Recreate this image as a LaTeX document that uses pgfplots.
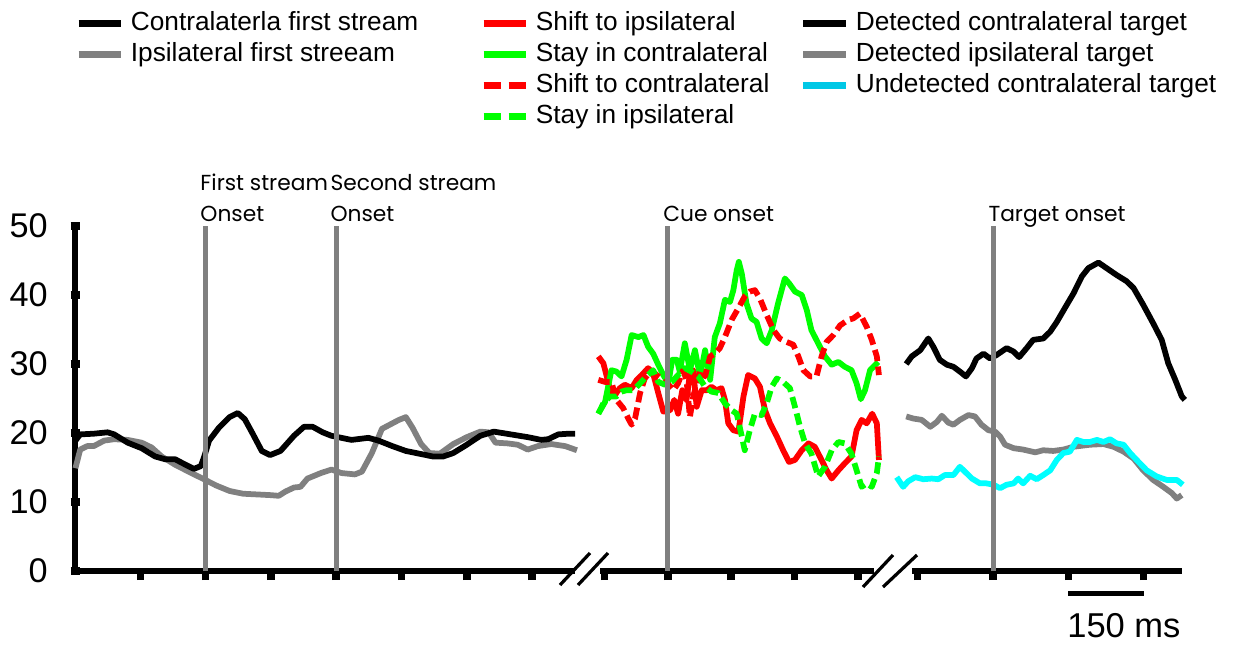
\documentclass[border=0pt]{standalone}
\usepackage{fontspec}
\setmainfont{Liberation Sans}
\newfontfamily\geofont{Poppins}
\usepackage{pgfplots}
\pgfplotsset{compat=1.18}
\definecolor{lgray}{RGB}{128,128,128}
\definecolor{pred}{RGB}{255,0,0}
\definecolor{pgreen}{RGB}{0,255,0}
\definecolor{pcyan}{RGB}{0,255,255}
\definecolor{lcyan}{RGB}{0,200,230}
\newcommand\PX[2]{({(#1)*0.4pt},{(644-(#2))*0.4pt})}
\tikzset{lab/.style={anchor=base west, inner sep=0pt, font=\geofont\fontsize{8.7}{10}\selectfont}}
\pgfplotsset{
  panel/.style={
    y=2.76pt, ymin=0, ymax=50, enlargelimits=false,
    axis x line=bottom,
    tick align=outside,
    major tick length=3.6pt,
    tick style={black, line width=3pt},
    xticklabels={},
    clip=false,
    no markers,
    /pgf/number format/assume math mode=true,
    legend cell align=left,
    legend style={draw=none, fill=none, anchor=north west,
      font=\fontsize{10.5}{12}\selectfont, inner sep=0pt, outer sep=0pt,
      row sep=2pt, nodes={inner sep=0pt, text height=8pt, text depth=2.5pt}},
    legend image code/.code={\draw[#1, line width=2.8pt] (0pt,0pt) -- (17pt,0pt); \path (19.8pt,0pt);},
  },
  lines/.style={axis line style={-, line width=2.6pt, black}},
  curve/.style={line width=2.3pt, line join=round},
  dcurve/.style={line width=2.3pt, line join=round, dash pattern=on 4.6pt off 2.2pt},
  vline/.style={lgray, line width=2pt, forget plot},
}
\begin{document}
\begin{tikzpicture}
\useasboundingbox (0,0) rectangle (494.4pt,257.6pt);

% ---------------- Panel 1 ----------------
\begin{axis}[panel,
  at={(30pt,29.2pt)}, anchor=south west,
  x=0.17413pt, xmin=-300, xmax=849,
  axis y line=left, lines,
  xtick={-150,0,150,300,450,600,750},
  ytick={0,10,20,30,40,50},
  yticklabel style={font=\fontsize{13.7}{15}\selectfont, xshift=-5.6pt},
  legend style={at={(0,1.626)}},
]
\addlegendimage{black, curve}\addlegendentry{Contralaterla first stream}
\addlegendimage{lgray, curve}\addlegendentry{Ipsilateral first streeam}
\addplot[lgray, curve, forget plot] coordinates {
(-299,14.9) (-288,17.6) (-272,18.1) (-257,18.1) (-233,18.9) (-210,19.1) (-179,19.0) (-147,18.6) (-124,17.9) (-101,16.6) (-70,15.4) (-39,14.4) (-7,13.4) (24,12.4) (55,11.6) (86,11.2) (117,11.1) (148,11.0) (168,10.9) (183,11.5) (203,12.1) (218,12.2) (234,13.4) (265,14.2) (289,14.7) (312,14.2) (343,14.0) (359,14.4) (382,17.1) (405,20.6) (429,21.4) (444,21.9) (460,22.3) (475,20.8) (495,18.4) (514,17.1) (538,17.0) (569,18.4) (600,19.4) (631,20.2) (650,20.1) (666,18.6) (693,18.5) (717,18.3) (740,17.6) (763,18.1) (794,18.4) (826,18.1) (853,17.5)};
\addplot[black, curve, forget plot] coordinates {
(-299,18.9) (-288,19.8) (-257,19.9) (-225,20.1) (-210,19.8) (-179,18.6) (-147,17.8) (-116,16.6) (-93,16.2) (-70,16.2) (-46,15.4) (-27,14.8) (-11,15.2) (-3,16.6) (8,18.9) (31,20.8) (55,22.3) (74,22.9) (90,22.0) (109,19.8) (129,17.4) (148,16.8) (172,17.4) (203,19.6) (226,20.9) (246,20.9) (269,20.1) (289,19.6) (312,19.3) (335,19.0) (374,19.3) (397,18.9) (429,18.1) (460,17.4) (491,17.0) (522,16.6) (546,16.6) (569,17.1) (600,18.3) (631,19.6) (662,20.2) (701,19.8) (740,19.4) (771,19.0) (787,19.1) (810,19.8) (834,19.9) (849,19.9)};
\addplot[vline] coordinates {(0,0) (0,50)};
\addplot[vline] coordinates {(300,0) (300,50)};
\node[lab] at (axis cs:-13,55.1) {First stream};
\node[lab] at (axis cs:-13,50.7) {Onset};
\node[lab] at (axis cs:286,55.1) {Second stream};
\node[lab] at (axis cs:286,50.7) {Onset};
\end{axis}

% ---------------- Panel 2 ----------------
\begin{axis}[panel,
  at={(240pt,29.2pt)}, anchor=south west,
  x=0.1688pt, xmin=-161, xmax=488,
  axis y line=none, lines, ytick=\empty,
  xtick={-150,0,150,300,450},
  legend style={at={(-0.438,1.626)}},
]
\addplot[pred, curve] coordinates {
(-165,31.1) (-153,30.1) (-145,28.2) (-137,26.2) (-126,25.5) (-114,26.5) (-102,27.0) (-86,26.5) (-74,27.7) (-62,28.4) (-47,29.4) (-35,28.6) (-23,25.8) (-11,23.1) (5,23.3) (15,24.8) (24,22.8) (34,26.2) (44,24.8) (52,28.6) (60,29.1) (68,23.8) (80,26.2) (92,26.2) (103,26.7) (115,26.2) (127,26.5) (135,24.8) (143,21.4) (155,20.4) (167,20.2) (179,25.3) (190,28.4) (206,27.9) (218,26.7) (230,23.3) (242,21.4) (258,19.5) (273,17.5) (287,15.8) (301,16.1) (317,17.5) (333,18.5) (348,18.0) (364,16.1) (376,14.6) (388,13.4) (404,14.6) (419,15.6) (435,16.6) (447,20.4) (459,21.9) (471,21.4) (484,22.8) (495,21.4) (500,16.1)};
\addlegendentry{Shift to ipsilateral}
\addplot[pgreen, curve] coordinates {
(-165,22.8) (-149,24.5) (-134,29.1) (-122,28.9) (-110,28.2) (-98,30.6) (-86,34.2) (-70,33.9) (-58,34.2) (-47,32.5) (-35,31.5) (-23,29.9) (-11,28.4) (1,27.2) (10,30.6) (21,30.6) (28,28.9) (40,33.0) (52,29.1) (64,32.0) (76,28.2) (88,32.0) (100,27.7) (111,33.9) (123,35.9) (135,39.3) (147,39.0) (155,40.7) (163,43.6) (168,44.8) (175,43.1) (186,38.8) (198,36.6) (210,36.1) (222,33.7) (234,33.0) (246,34.9) (261,38.8) (277,42.4) (287,41.7) (301,40.5) (317,40.0) (329,37.8) (340,34.9) (356,33.0) (372,31.1) (388,29.9) (404,30.3) (419,29.6) (435,29.1) (447,27.2) (457,24.9) (467,26.2) (479,29.1) (498,30.3)};
\addlegendentry{Stay in contralateral}
\addplot[pred, dcurve, legend image post style={dash pattern=on 6.8pt off 3.2pt}] coordinates {
(-165,27.7) (-149,27.4) (-134,27.4) (-122,24.8) (-106,23.6) (-94,22.1) (-86,21.2) (-78,22.1) (-66,25.8) (-55,27.9) (-39,29.1) (-27,28.4) (-11,27.7) (1,27.0) (13,26.2) (24,27.2) (36,29.1) (44,27.7) (52,22.3) (60,25.3) (68,27.2) (76,29.1) (88,28.2) (100,31.1) (111,31.5) (123,32.3) (135,33.9) (151,36.4) (167,38.1) (182,39.8) (194,40.5) (206,40.7) (218,39.5) (234,37.1) (250,34.9) (265,33.7) (281,33.2) (297,32.8) (309,31.1) (321,29.1) (337,28.2) (352,28.2) (364,31.1) (376,33.2) (392,34.2) (408,35.6) (427,36.4) (439,36.6) (455,37.3) (471,35.4) (483,33.5) (495,31.1) (500,28.4)};
\addlegendentry{Shift to contralateral}
\addplot[pgreen, dcurve, legend image post style={dash pattern=on 6.8pt off 3.2pt}] coordinates {
(-165,22.8) (-153,24.3) (-137,25.3) (-122,25.3) (-110,26.0) (-98,26.2) (-82,26.2) (-66,27.2) (-51,28.2) (-35,29.1) (-23,27.4) (-7,27.0) (9,27.4) (24,28.4) (40,29.4) (56,28.9) (72,28.2) (88,26.7) (103,26.0) (119,25.8) (135,24.3) (151,23.3) (163,22.8) (175,19.5) (182,17.5) (194,20.4) (206,22.8) (222,22.6) (234,24.3) (246,26.7) (258,27.9) (273,27.4) (289,26.5) (301,23.8) (313,20.9) (325,18.5) (340,17.0) (356,13.7) (372,15.1) (388,17.5) (404,18.7) (419,18.5) (435,17.0) (447,14.6) (459,12.2) (471,12.7) (483,12.2) (495,14.2) (500,16.6)};
\addlegendentry{Stay in ipsilateral}
\addplot[vline] coordinates {(0,0) (0,50)};
\node[lab] at (axis cs:-12,50.7) {Cue onset};
\end{axis}

% ---------------- Panel 3 ----------------
\begin{axis}[panel,
  at={(364.8pt,29.2pt)}, anchor=south west,
  x=0.2008pt, xmin=-161.4, xmax=376.5,
  axis y line=none, lines, ytick=\empty,
  xtick={-150,0,150,300},
  legend style={at={(-0.415,1.626)}},
]
\addplot[black, curve] coordinates {
(-173,30.0) (-162,31.1) (-145,32.0) (-129,33.7) (-119,32.5) (-106,30.6) (-92,29.9) (-79,29.6) (-66,28.9) (-54,28.2) (-42,29.4) (-33,30.8) (-19,31.5) (-6,30.8) (7,31.3) (27,32.3) (41,31.8) (52,31.0) (67,32.3) (80,33.5) (100,33.7) (114,34.7) (127,36.1) (143,38.1) (160,40.2) (177,42.7) (190,43.9) (210,44.7) (226,43.9) (246,42.9) (266,42.0) (280,41.0) (299,38.6) (319,35.9) (336,33.5) (349,30.1) (363,27.7) (376,25.3) (382,24.8)};
\addlegendentry{Detected contralateral target}
\addplot[lgray, curve] coordinates {
(-173,22.4) (-159,22.1) (-142,21.9) (-125,20.9) (-112,21.6) (-102,22.5) (-89,21.5) (-79,21.2) (-66,21.9) (-49,22.6) (-36,22.4) (-23,21.2) (-9,20.4) (4,20.2) (14,19.5) (24,18.3) (41,17.8) (60,17.6) (84,17.2) (100,17.5) (120,17.4) (140,17.6) (160,18.0) (193,18.3) (220,18.4) (240,18.0) (260,17.3) (280,16.3) (299,14.6) (319,13.2) (339,12.2) (356,11.3) (366,10.5) (376,11.0)};
\addlegendentry{Detected ipsilateral target}
\addplot[pcyan, curve, legend image post style={lcyan}] coordinates {
(-192,13.6) (-179,12.2) (-169,13.0) (-155,13.6) (-139,13.3) (-122,13.4) (-109,13.3) (-96,13.9) (-79,13.9) (-66,15.1) (-56,14.4) (-42,13.4) (-26,12.7) (-13,12.7) (1,12.5) (14,12.0) (27,12.5) (41,12.7) (50,13.4) (60,12.7) (74,13.8) (87,13.3) (100,13.9) (114,14.6) (127,16.1) (140,17.1) (153,17.3) (167,19.0) (180,18.7) (193,18.7) (207,19.0) (220,18.7) (233,19.1) (246,18.5) (260,18.3) (273,17.1) (290,15.8) (306,14.6) (326,13.7) (346,13.2) (366,13.2) (378,12.5)};
\addlegendentry{Undetected contralateral target}
\addplot[vline] coordinates {(0,0) (0,50)};
\addplot[black, line width=2pt, forget plot] coordinates {(150,-3.2) (300,-3.2)};
\node[anchor=base west, inner sep=0pt, font=\fontsize{13.8}{15}\selectfont] at (axis cs:147,-9.6) {150 ms};
\node[lab] at (axis cs:-10,50.7) {Target onset};
\end{axis}

% axis breaks
\draw[line width=1.3pt] \PX{560}{585} -- \PX{590}{553};
\draw[line width=1.3pt] \PX{578}{585} -- \PX{608}{553};
\draw[line width=1.3pt] \PX{863}{587} -- \PX{893}{555};
\draw[line width=1.3pt] \PX{883}{587} -- \PX{917}{555};
\end{tikzpicture}
\end{document}
